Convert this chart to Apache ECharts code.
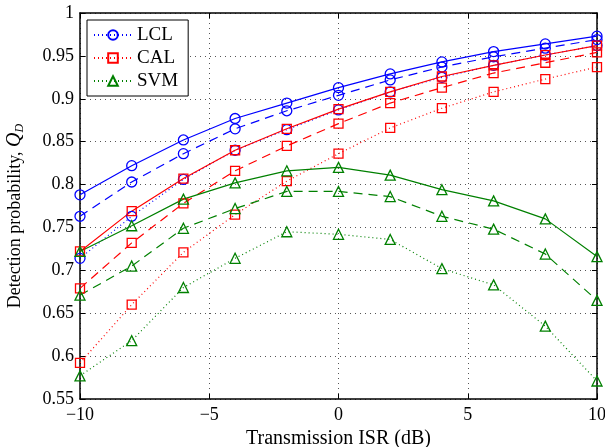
<!DOCTYPE html>
<html><head><meta charset="utf-8">
<script src="https://cdn.jsdelivr.net/npm/echarts@6/dist/echarts.min.js"></script>
<style>html,body{margin:0;padding:0;background:#fff}#c{width:605px;height:447px}</style>
</head><body><div id="c"></div>
<script>
const xValues = [-10,-8,-6,-4,-2,0,2,4,6,8,10];
const xTicks = [-10,-5,0,5,10];
const yTicks = [0.55,0.6,0.65,0.7,0.75,0.8,0.85,0.9,0.95,1];
const lclSolid  = [0.788,0.822,0.852,0.877,0.895,0.913,0.929,0.943,0.955,0.964,0.973];
const lclDashed = [0.763,0.803,0.836,0.865,0.886,0.904,0.922,0.937,0.949,0.959,0.969];
const lclDotted = [0.714,0.763,0.806,0.840,0.864,0.887,0.908,0.925,0.939,0.951,0.962];
const calSolid  = [0.722,0.769,0.807,0.840,0.865,0.888,0.908,0.926,0.939,0.951,0.962];
const calDashed = [0.679,0.732,0.778,0.816,0.845,0.871,0.895,0.913,0.930,0.942,0.954];
const calDotted = [0.592,0.660,0.721,0.765,0.804,0.836,0.866,0.889,0.908,0.923,0.937];
const svmSolid  = [0.722,0.752,0.783,0.802,0.816,0.820,0.811,0.794,0.781,0.760,0.716];
const svmDashed = [0.671,0.705,0.749,0.772,0.792,0.792,0.786,0.763,0.748,0.719,0.665];
const svmDotted = [0.577,0.618,0.680,0.714,0.745,0.742,0.736,0.702,0.683,0.635,0.571];
const legendNames = ['LCL','CAL','SVM'];

const BLUE='#0000ff', RED='#ff0000', GREEN='#008000';
const FONT='Liberation Serif';
const DOT=[1,3], DASH=[9,6];
function pairs(v){return xValues.map((x,i)=>[x,v[i]]);}
function ser(name,vals,color,symbol,size,type){
  return {name:name,type:'line',data:vals?pairs(vals):[],symbol:symbol,symbolSize:size,
    showSymbol:true,
    itemStyle:{color:'rgba(0,0,0,0)',borderColor:color,borderWidth:1.3},
    lineStyle:{color:color,width:1.2,type:type},emphasis:{disabled:true},animation:false,z:3};
}
const series=[
  ser(legendNames[0],null,BLUE,'circle',10,DOT),
  ser(legendNames[1],null,RED,'rect',9,DOT),
  ser(legendNames[2],null,GREEN,'triangle',10,DOT),
  ser('lcl1',lclSolid,BLUE,'circle',10,'solid'),
  ser('lcl2',lclDashed,BLUE,'circle',10,DASH),
  ser('lcl3',lclDotted,BLUE,'circle',10,DOT),
  ser('cal1',calSolid,RED,'rect',9,'solid'),
  ser('cal2',calDashed,RED,'rect',9,DASH),
  ser('cal3',calDotted,RED,'rect',9,DOT),
  ser('svm1',svmSolid,GREEN,'triangle',10,'solid'),
  ser('svm2',svmDashed,GREEN,'triangle',10,DASH),
  ser('svm3',svmDotted,GREEN,'triangle',10,DOT)
];
const axisCommon={axisLine:{show:true,onZero:false,lineStyle:{color:'#000',width:1.5}},
  axisTick:{show:true,inside:true,length:5,lineStyle:{color:'#000'}},
  minorTick:{show:false}};
const chart=echarts.init(document.getElementById('c'),null,{renderer:'canvas'});
chart.setOption({
  animation:false,
  backgroundColor:'#fff',
  grid:{left:80,right:8,top:13,bottom:48,containLabel:false,outerBoundsMode:'none'},
  legend:{data:legendNames,left:87,top:20,orient:'vertical',
    backgroundColor:'#fff',borderColor:'#000',borderWidth:1,
    padding:[5,10,5,6],itemGap:3,itemWidth:38,itemHeight:12,
    textStyle:{fontFamily:FONT,fontSize:19,color:'#000',lineHeight:20}},
  graphic:[{type:'text',x:15,y:216,rotation:Math.PI/2,silent:true,
    style:{text:'Detection probability, {q|Q}{sub|D}',fontFamily:FONT,fontSize:18,fill:'#000',
      align:'center',verticalAlign:'middle',
      rich:{q:{fontFamily:FONT,fontStyle:'italic',fontSize:20,fill:'#000'},
            sub:{fontFamily:FONT,fontStyle:'italic',fontSize:12,fill:'#000',padding:[9,0,0,0]}}}}],
  xAxis:[
    Object.assign({type:'value',min:-10,max:10,interval:5,position:'bottom',
      name:'Transmission ISR (dB)',nameLocation:'middle',nameGap:26,
      nameTextStyle:{fontFamily:FONT,fontSize:20,color:'#000'},
      axisLabel:{fontFamily:FONT,fontSize:18,color:'#000',margin:7,
        formatter:v=>String(v).replace('-','\u2212')},
      splitLine:{show:true,lineStyle:{color:'#555',type:[1,4],width:1}}},axisCommon),
    Object.assign({type:'value',min:-10,max:10,interval:5,position:'top',
      axisLabel:{show:false},splitLine:{show:false}},axisCommon)
  ],
  yAxis:[
    Object.assign({type:'value',min:0.55,max:1,interval:0.05,position:'left',
      axisLabel:{fontFamily:FONT,fontSize:18,color:'#000',margin:6,
        formatter:v=>String(+v.toFixed(2))},
      splitLine:{show:true,lineStyle:{color:'#555',type:[1,4],width:1}}},axisCommon),
    Object.assign({type:'value',min:0.55,max:1,interval:0.05,position:'right',
      axisLabel:{show:false},splitLine:{show:false}},axisCommon)
  ],
  series:series
});
</script></body></html>
